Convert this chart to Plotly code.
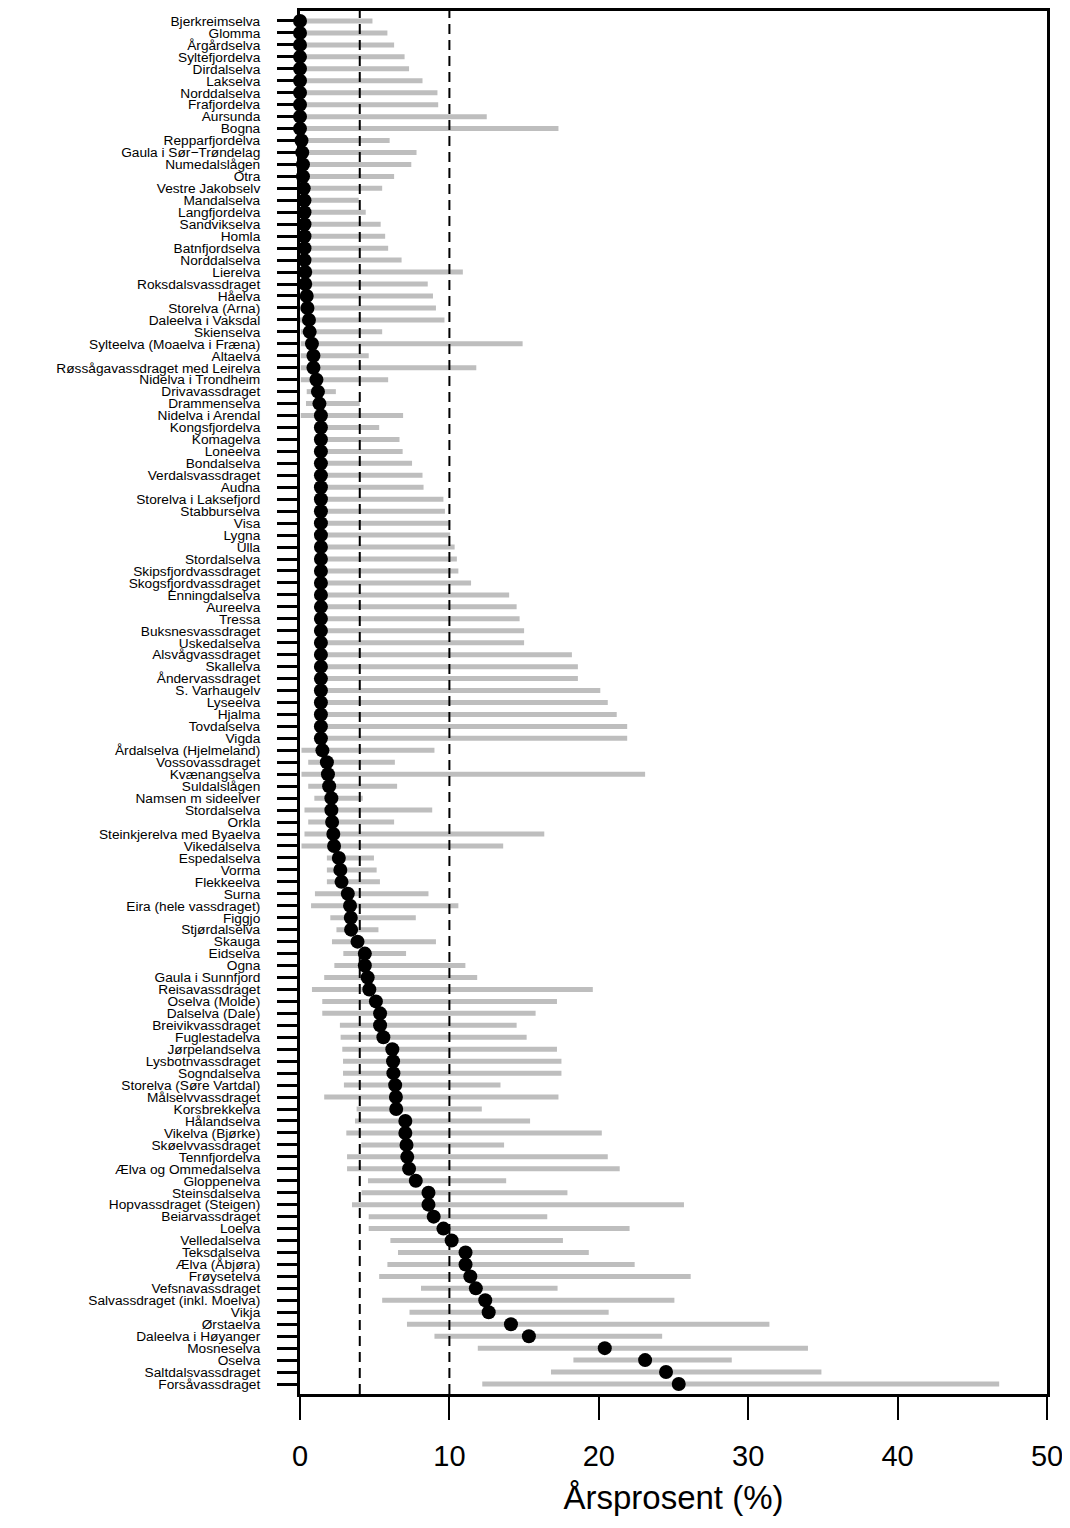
import plotly.graph_objects as go

rivers = [
    "Bjerkreimselva", "Glomma", "Årgårdselva", "Syltefjordelva", "Dirdalselva",
    "Lakselva", "Norddalselva", "Frafjordelva", "Aursunda", "Bogna",
    "Repparfjordelva", "Gaula i Sør−Trøndelag", "Numedalslågen", "Otra", "Vestre Jakobselv",
    "Mandalselva", "Langfjordelva", "Sandvikselva", "Homla", "Batnfjordselva",
    "Norddalselva", "Lierelva", "Roksdalsvassdraget", "Håelva", "Storelva (Arna)",
    "Daleelva i Vaksdal", "Skienselva", "Sylteelva (Moaelva i Fræna)", "Altaelva",
    "Røssågavassdraget med Leirelva", "Nidelva i Trondheim", "Drivavassdraget", "Drammenselva",
    "Nidelva i Arendal", "Kongsfjordelva", "Komagelva", "Loneelva", "Bondalselva",
    "Verdalsvassdraget", "Audna", "Storelva i Laksefjord", "Stabburselva", "Visa", "Lygna",
    "Ulla", "Stordalselva", "Skipsfjordvassdraget", "Skogsfjordvassdraget", "Enningdalselva",
    "Aureelva", "Tressa", "Buksnesvassdraget", "Uskedalselva", "Alsvågvassdraget", "Skallelva",
    "Åndervassdraget", "S. Varhaugelv", "Lyseelva", "Hjalma", "Tovdalselva", "Vigda",
    "Årdalselva (Hjelmeland)", "Vossovassdraget", "Kvænangselva", "Suldalslågen",
    "Namsen m sideelver", "Stordalselva", "Orkla", "Steinkjerelva med Byaelva", "Vikedalselva",
    "Espedalselva", "Vorma", "Flekkeelva", "Surna", "Eira (hele vassdraget)", "Figgjo",
    "Stjørdalselva", "Skauga", "Eidselva", "Ogna", "Gaula i Sunnfjord", "Reisavassdraget",
    "Oselva (Molde)", "Dalselva (Dale)", "Breivikvassdraget", "Fuglestadelva", "Jørpelandselva",
    "Lysbotnvassdraget", "Sogndalselva", "Storelva (Søre Vartdal)", "Målselvvassdraget",
    "Korsbrekkelva", "Hålandselva", "Vikelva (Bjørke)", "Skøelvvassdraget", "Tennfjordelva",
    "Ælva og Ommedalselva", "Gloppenelva", "Steinsdalselva", "Hopvassdraget (Steigen)",
    "Beiarvassdraget", "Loelva", "Velledalselva", "Teksdalselva", "Ælva (Åbjøra)",
    "Frøysetelva", "Vefsnavassdraget", "Salvassdraget (inkl. Moelva)", "Vikja", "Ørstaelva",
    "Daleelva i Høyanger", "Mosneselva", "Oselva", "Saltdalsvassdraget", "Forsåvassdraget",
]

mean_pct = [
    0, 0, 0, 0, 0, 0, 0, 0, 0, 0,
    0.1, 0.15, 0.2, 0.2, 0.25, 0.3, 0.3, 0.3, 0.3, 0.3,
    0.3, 0.35, 0.35, 0.45, 0.5, 0.6, 0.65, 0.8, 0.9, 0.9,
    1.1, 1.2, 1.3, 1.4, 1.4, 1.4, 1.4, 1.4, 1.4, 1.4,
    1.4, 1.4, 1.4, 1.4, 1.4, 1.4, 1.4, 1.4, 1.4, 1.4,
    1.4, 1.4, 1.4, 1.4, 1.4, 1.4, 1.4, 1.4, 1.4, 1.4,
    1.4, 1.5, 1.8, 1.87, 1.95, 2.1, 2.1, 2.15, 2.23, 2.28,
    2.6, 2.7, 2.78, 3.2, 3.35, 3.4, 3.42, 3.85, 4.34, 4.34,
    4.53, 4.64, 5.08, 5.36, 5.36, 5.58, 6.18, 6.23, 6.25, 6.37,
    6.42, 6.44, 7.05, 7.05, 7.13, 7.18, 7.3, 7.75, 8.6, 8.6,
    8.95, 9.6, 10.15, 11.08, 11.08, 11.4, 11.77, 12.4, 12.63, 14.12,
    15.32, 20.4, 23.1, 24.5, 25.35,
]

lower_pct = [
    0, 0, 0, 0, 0, 0, 0, 0, 0, 0,
    0, 0, 0, 0, 0, 0, 0, 0, 0, 0,
    0, 0, 0, 0, 0, 0, 0.05, 0.05, 0.05, 0.05,
    0.05, 0.45, 0.4, 0.05, 1.1, 1.1, 1.1, 1.1, 1.1, 1.1,
    1.1, 1.1, 1.1, 1.1, 1.1, 1.1, 1.1, 1.1, 1.1, 1.1,
    1.1, 1.1, 1.1, 1.1, 1.1, 1.1, 1.1, 1.1, 1.1, 1.1,
    1.1, 0.1, 0.55, 0.1, 0.55, 0.96, 0.3, 0.55, 0.3, 0.1,
    1.8, 1.8, 1.8, 1.0, 0.74, 2.03, 2.44, 2.14, 2.9, 2.3,
    1.62, 0.8, 1.49, 1.49, 2.67, 2.72, 2.83, 2.88, 2.88, 2.94,
    1.62, 3.79, 3.68, 3.1, 4.1, 3.15, 3.15, 4.55, 4.12, 3.48,
    4.6, 4.6, 6.05, 6.56, 5.85, 5.3, 8.1, 5.5, 7.33, 7.16,
    9.0, 11.9, 18.3, 16.8, 12.2,
]

upper_pct = [
    4.85, 5.85, 6.3, 7.0, 7.3, 8.2, 9.2, 9.25, 12.5, 17.3,
    6.0, 7.8, 7.45, 6.3, 5.5, 3.93, 4.4, 5.4, 5.7, 5.9,
    6.8, 10.9, 8.55, 8.9, 9.1, 9.67, 5.5, 14.9, 4.6, 11.8,
    5.9, 2.4, 4.0, 6.9, 5.3, 6.66, 6.87, 7.5, 8.2, 8.27,
    9.6, 9.7, 10.05, 10.05, 10.35, 10.5, 10.6, 11.45, 14.0, 14.5,
    14.7, 15.0, 15.0, 18.2, 18.6, 18.6, 20.1, 20.6, 21.2, 21.9,
    21.9, 9.0, 6.35, 23.1, 6.5, 4.2, 8.85, 6.3, 16.35, 13.6,
    4.95, 5.13, 5.35, 8.6, 10.6, 7.75, 5.25, 9.1, 7.1, 11.07,
    11.86, 19.6, 17.2, 15.77, 14.5, 15.17, 17.2, 17.5, 17.5, 13.42,
    17.3, 12.17, 15.4, 20.2, 13.66, 20.6, 21.4, 13.8, 17.9, 25.7,
    16.55, 22.06, 17.6, 19.33, 22.4, 26.15, 17.24, 25.06, 20.66, 31.42,
    24.24, 34.0, 28.9, 34.9, 46.8,
]

ref_lines = [4, 10]
x_ticks = [0, 10, 20, 30, 40, 50]

rows = list(range(1, len(rivers) + 1))

# interval segments
seg_x, seg_y = [], []
for r, lo, hi in zip(rows, lower_pct, upper_pct):
    seg_x += [lo, hi, None]
    seg_y += [r, r, None]

fig = go.Figure()
fig.add_trace(go.Scatter(
    x=seg_x, y=seg_y, mode="lines",
    line=dict(color="#BEBEBE", width=5),
    hoverinfo="skip", showlegend=False,
))
fig.add_trace(go.Scatter(
    x=mean_pct, y=rows, mode="markers",
    marker=dict(color="black", size=14, line=dict(width=0)),
    cliponaxis=False, showlegend=False,
))

for v in ref_lines:
    fig.add_shape(type="line", x0=v, x1=v, y0=0, y1=1, xref="x", yref="paper",
                  line=dict(color="black", width=2, dash="10px,6px"), layer="above")

n = len(rivers)
fig.update_layout(
    width=1062, height=1520,
    margin=dict(l=292, r=23, t=0, b=134),
    paper_bgcolor="white", plot_bgcolor="white",
    font=dict(family="Liberation Sans, Arial, sans-serif", color="black"),
    xaxis=dict(
        range=[0, 50], tickvals=x_ticks, ticks="outside", ticklen=23, tickwidth=2,
        tickcolor="black", showgrid=False, zeroline=False,
        showline=True, mirror=True, linecolor="black", linewidth=3,
        tickfont=dict(size=29), ticklabelstandoff=11,
        title=dict(text="Årsprosent (%)", font=dict(size=33), standoff=16),
    ),
    yaxis=dict(
        range=[n + 0.835, 0.165], tickvals=rows, ticktext=rivers,
        ticks="outside", ticklen=20, tickwidth=3, tickcolor="black",
        showgrid=False, zeroline=False,
        showline=True, mirror=True, linecolor="black", linewidth=3,
        tickfont=dict(size=13.7), ticklabelstandoff=14,
    ),
)

fig.write_html("out.html")
